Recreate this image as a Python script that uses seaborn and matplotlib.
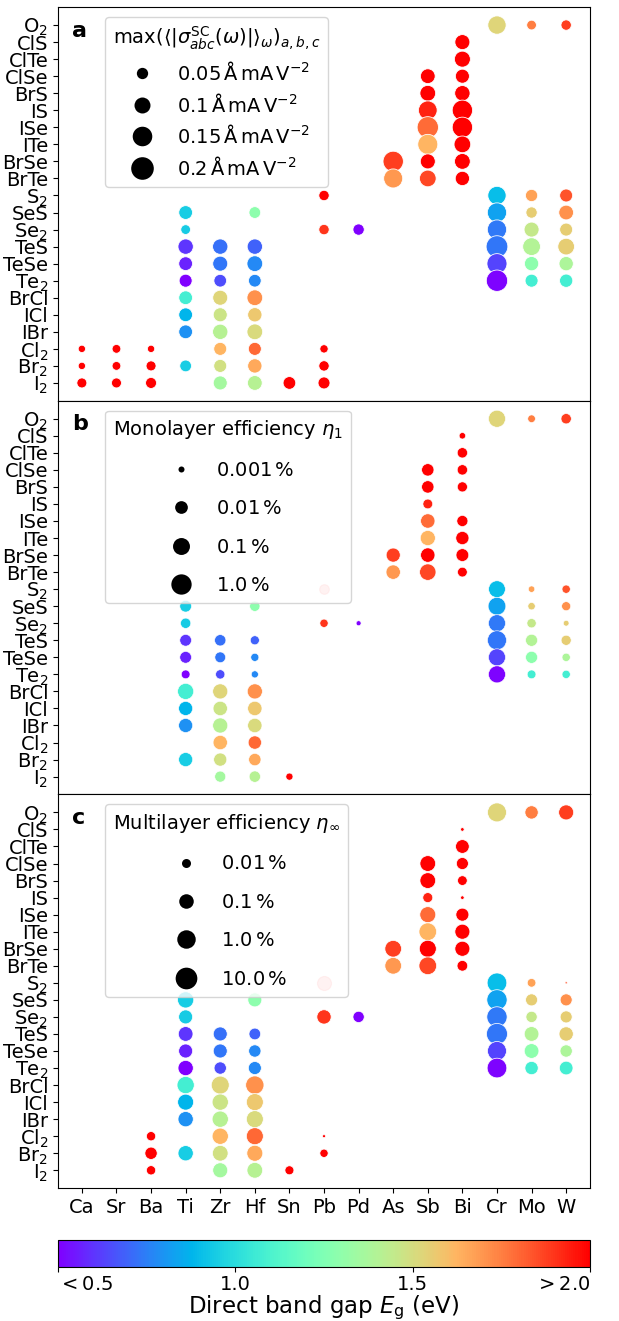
import numpy as np
import pandas as pd
import matplotlib
matplotlib.use("Agg")
import matplotlib.pyplot as plt
from matplotlib.lines import Line2D
from matplotlib.colors import Normalize
from matplotlib.cm import ScalarMappable
import seaborn as sns

# ---------------------------------------------------------------- categories
metals = ["Ca", "Sr", "Ba", "Ti", "Zr", "Hf", "Sn", "Pb", "Pd",
          "As", "Sb", "Bi", "Cr", "Mo", "W"]
ligands = ["I2", "Br2", "Cl2", "IBr", "ICl", "BrCl", "Te2", "TeSe", "TeS",
           "Se2", "SeS", "S2", "BrTe", "BrSe", "ITe", "ISe", "IS", "BrS",
           "ClSe", "ClTe", "ClS", "O2"]
ligand_labels = ["I$_2$", "Br$_2$", "Cl$_2$", "IBr", "ICl", "BrCl", "Te$_2$",
                 "TeSe", "TeS", "Se$_2$", "SeS", "S$_2$", "BrTe", "BrSe",
                 "ITe", "ISe", "IS", "BrS", "ClSe", "ClTe", "ClS", "O$_2$"]

nan = np.nan

# ---------------------------------------------------------------- compounds
compound_metal = (["Ca"] * 3 + ["Sr"] * 3 + ["Ba"] * 3 + ["Ti"] * 9 +
                  ["Zr"] * 9 + ["Hf"] * 10 + ["Sn"] * 1 + ["Pb"] * 5 +
                  ["Pd"] * 1 + ["As"] * 2 + ["Sb"] * 7 + ["Bi"] * 9 +
                  ["Cr"] * 7 + ["Mo"] * 7 + ["W"] * 7)

compound_ligand = [
    "I2", "Br2", "Cl2",                                              # Ca
    "I2", "Br2", "Cl2",                                              # Sr
    "I2", "Br2", "Cl2",                                              # Ba
    "SeS", "Se2", "TeS", "TeSe", "Te2", "BrCl", "ICl", "IBr", "Br2",  # Ti
    "TeS", "TeSe", "Te2", "BrCl", "ICl", "IBr", "Cl2", "Br2", "I2",  # Zr
    "SeS", "TeS", "TeSe", "Te2", "BrCl", "ICl", "IBr", "Cl2", "Br2", "I2",  # Hf
    "I2",                                                            # Sn
    "S2", "Se2", "Cl2", "Br2", "I2",                                 # Pb
    "Se2",                                                           # Pd
    "BrSe", "BrTe",                                                  # As
    "ClSe", "BrS", "IS", "ISe", "ITe", "BrSe", "BrTe",               # Sb
    "ClS", "ClTe", "ClSe", "BrS", "IS", "ISe", "ITe", "BrSe", "BrTe",  # Bi
    "O2", "S2", "SeS", "Se2", "TeS", "TeSe", "Te2",                  # Cr
    "O2", "S2", "SeS", "Se2", "TeS", "TeSe", "Te2",                  # Mo
    "O2", "S2", "SeS", "Se2", "TeS", "TeSe", "Te2",                  # W
]

# direct band gap (eV)
band_gap = [
    2.45, 2.70, 2.95,
    2.35, 2.60, 2.85,
    2.20, 2.45, 2.75,
    0.95, 0.94, 0.60, 0.57, 0.49, 1.08, 0.88, 0.79, 0.95,
    0.72, 0.73, 0.65, 1.53, 1.47, 1.41, 1.62, 1.49, 1.36,
    1.29, 0.69, 0.77, 0.77, 1.71, 1.57, 1.51, 1.80, 1.65, 1.41,
    2.15,
    2.30, 1.90, 2.60, 2.35, 2.10,
    0.48,
    1.88, 1.69,
    2.25, 2.15, 1.93, 1.79, 1.62, 2.05, 1.86,
    2.40, 2.10, 2.30, 2.20, 2.05, 2.02, 2.00, 2.15, 2.05,
    1.53, 0.90, 0.83, 0.74, 0.73, 0.63, 0.51,
    1.75, 1.67, 1.55, 1.45, 1.40, 1.29, 1.08,
    1.88, 1.84, 1.71, 1.55, 1.55, 1.38, 1.08,
]

# max(<|sigma_abc^SC|>_w) (Angstrom mA V^-2)
sigma_max = [
    0.039, 0.021, 0.021,
    0.039, 0.030, 0.030,
    0.047, 0.039, 0.021,
    0.074, 0.037, 0.092, 0.074, 0.066, 0.074, 0.074, 0.074, 0.054,
    0.092, 0.088, 0.063, 0.088, 0.077, 0.092, 0.066, 0.066, 0.077,
    0.054, 0.092, 0.097, 0.063, 0.097, 0.080, 0.097, 0.066, 0.080, 0.085,
    0.063,
    0.042, 0.042, 0.027, 0.042, 0.056,
    0.050,
    0.162, 0.142,
    0.085, 0.097, 0.137, 0.178, 0.157, 0.088, 0.109,
    0.088, 0.100, 0.077, 0.092, 0.162, 0.162, 0.109, 0.097, 0.080,
    0.131, 0.131, 0.146, 0.146, 0.185, 0.157, 0.178,
    0.037, 0.059, 0.050, 0.088, 0.123, 0.080, 0.066,
    0.042, 0.066, 0.085, 0.066, 0.109, 0.080, 0.069,
]

# monolayer efficiency eta_1 (%)
eta_mono = [
    nan, nan, nan,
    nan, nan, nan,
    nan, nan, nan,
    0.0064, 0.0036, 0.0064, 0.0064, 0.0021, 0.058, 0.019, 0.019, 0.019,
    0.0054, 0.0043, 0.0025, 0.033, 0.022, 0.033, 0.022, 0.012, 0.0048,
    0.0036, 0.0023, 0.0017, 0.0013, 0.033, 0.022, 0.022, 0.013, 0.0083, 0.0054,
    0.0013,
    0.0029, 0.0018, nan, nan, nan,
    0.00081,
    0.019, 0.022,
    0.0083, 0.0083, 0.0029, 0.022, 0.033, 0.022, 0.069,
    0.0011, 0.0036, 0.0036, 0.0033, nan, 0.0048, 0.012, 0.010, 0.0029,
    0.106, 0.088, 0.164, 0.106, 0.398, 0.106, 0.106,
    0.0015, 0.0011, 0.0014, 0.0025, 0.0073, 0.0073, 0.0021,
    0.0036, 0.0018, 0.0023, 0.00094, 0.0033, 0.0018, 0.0018,
]

# multilayer efficiency eta_inf (%)
eta_multi = [
    nan, nan, nan,
    nan, nan, nan,
    0.011, 0.035, 0.011,
    0.26, 0.077, 0.11, 0.077, 0.15, 0.47, 0.22, 0.15, 0.15,
    0.077, 0.077, 0.035, 0.74, 0.26, 0.26, 0.26, 0.19, 0.13,
    0.077, 0.027, 0.035, 0.048, 0.90, 0.40, 0.40, 0.40, 0.22, 0.19,
    0.010,
    0.077, 0.089, 0.0028, 0.0081, nan,
    0.023,
    0.33, 0.33,
    0.19, 0.19, 0.014, 0.22, 0.61, 0.40, 0.61,
    0.0030, 0.066, 0.031, 0.0126, 0.0030, 0.048, 0.13, 0.13, 0.018,
    1.43, 2.29, 3.5, 3.5, 5.9, 1.43, 2.29,
    0.055, 0.0091, 0.031, 0.023, 0.11, 0.11, 0.055,
    0.13, 0.0026, 0.031, 0.031, 0.089, 0.035, 0.066,
]

# efficiency entries shown faded
faded = [("Pb", "S2")]

# legend entries
sigma_legend = [0.05, 0.1, 0.15, 0.2]
mono_legend = [0.001, 0.01, 0.1, 1.0]
multi_legend = [0.01, 0.1, 1.0, 10.0]

# colour bar ticks
gap_ticks = [0.5, 1.0, 1.5, 2.0]
gap_tick_labels = ["$<0.5$", "1.0", "1.5", "$>2.0$"]

# ---------------------------------------------------------------- table
df = pd.DataFrame({
    "metal": compound_metal, "ligand": compound_ligand, "gap": band_gap,
    "sigma": sigma_max, "eta1": eta_mono, "etainf": eta_multi,
})
df["xpos"] = pd.Categorical(df["metal"], categories=metals).codes
df["ypos"] = pd.Categorical(df["ligand"], categories=ligands).codes
df["log_eta1"] = np.log10(df["eta1"])
df["log_etainf"] = np.log10(df["etainf"])
df["faded"] = [(m, l) in faded for m, l in zip(df["metal"], df["ligand"])]

# size scales: (transform, data range, marker-area range)
panels = [
    dict(col="sigma", fn=lambda v: v, norm=(0.0, 0.25), sizes=(0.0, 331.0),
         legend=sigma_legend,
         labels=[f"${v:g}\\,\\mathrm{{\\AA\\,mA\\,V^{{-2}}}}$" for v in sigma_legend],
         title=r"max$(\langle|\sigma^{\mathrm{SC}}_{abc}(\omega)|\rangle_{\omega})_{a,b,c}$",
         tag="a", spacing=0.45, fade=False),
    dict(col="log_eta1", fn=np.log10, norm=(-3.2, 0.5), sizes=(5.7, 246.2),
         legend=mono_legend,
         labels=[f"{v}$\\,$%" for v in mono_legend],
         title=r"Monolayer efficiency $\eta_1$",
         tag="b", spacing=1.0, fade=True),
    dict(col="log_etainf", fn=np.log10, norm=(-2.6, 1.2), sizes=(1.6, 257.4),
         legend=multi_legend,
         labels=[f"{v}$\\,$%" for v in multi_legend],
         title=r"Multilayer efficiency $\eta_\infty$",
         tag="c", spacing=1.0, fade=True),
]


def marker_area(value, p):
    lo, hi = p["norm"]
    s0, s1 = p["sizes"]
    return s0 + (p["fn"](value) - lo) / (hi - lo) * (s1 - s0)


fig = plt.figure(figsize=(6.19, 13.21), dpi=100)
left, width = 0.0937, 0.8595
top, height = 0.9947, 0.29801
cmap_name = "rainbow"
gap_norm = (0.5, 2.0)

for i, p in enumerate(panels):
    ax = fig.add_axes([left, top - (i + 1) * height, width, height])
    sub = df.dropna(subset=[p["col"]])
    main = sub[~sub["faded"]] if p["fade"] else sub
    sns.scatterplot(data=main, x="xpos", y="ypos", hue="gap",
                    palette=cmap_name, hue_norm=gap_norm, size=p["col"],
                    sizes=p["sizes"], size_norm=p["norm"], legend=False,
                    ax=ax, zorder=3)
    if p["fade"]:
        fsub = sub[sub["faded"]]
        sns.scatterplot(data=fsub, x="xpos", y="ypos", size=p["col"],
                        sizes=p["sizes"], size_norm=p["norm"], color="red",
                        alpha=0.25, edgecolor="red", linewidth=0.8,
                        legend=False, ax=ax, zorder=3)

    ax.set_xlim(-0.69, len(metals) - 1 + 0.69)
    ax.set_ylim(-1.04, len(ligands) - 1 + 1.06)
    ax.set_yticks(range(len(ligands)))
    ax.set_yticklabels(ligand_labels, fontsize=14)
    ax.set_xticks(range(len(metals)))
    ax.set_xlabel("")
    ax.set_ylabel("")
    if i < 2:
        ax.tick_params(axis="x", labelbottom=False, bottom=False)
    else:
        ax.set_xticklabels(metals, fontsize=14)
    for sp in ax.spines.values():
        sp.set_color("black")

    ax.text(0.026, 0.965, p["tag"], transform=ax.transAxes, fontsize=16,
            fontweight="bold", ha="left", va="top")

    handles = [Line2D([], [], ls="none", marker="o",
                      markersize=np.sqrt(marker_area(v, p)),
                      markerfacecolor="black", markeredgewidth=0)
               for v in p["legend"]]
    ax.legend(handles, p["labels"], title=p["title"], loc="upper left",
              bbox_to_anchor=(0.0883, 0.975), borderaxespad=0, fontsize=14,
              title_fontsize=14, labelspacing=p["spacing"])

# colour bar for the band gap
cax = fig.add_axes([left, 0.0408, width, 0.0204])
sm = ScalarMappable(norm=Normalize(*gap_norm), cmap=cmap_name)
cb = fig.colorbar(sm, cax=cax, orientation="horizontal")
cb.set_ticks(gap_ticks)
cb.set_ticklabels(gap_tick_labels)
cb.ax.tick_params(labelsize=14, pad=2)
tick_texts = cb.ax.get_xticklabels()
tick_texts[0].set_ha("left")
tick_texts[-1].set_ha("right")
cb.set_label(r"Direct band gap $E_\mathrm{g}$ (eV)", fontsize=16.5, labelpad=0)

fig.savefig("out.png", dpi=100)
